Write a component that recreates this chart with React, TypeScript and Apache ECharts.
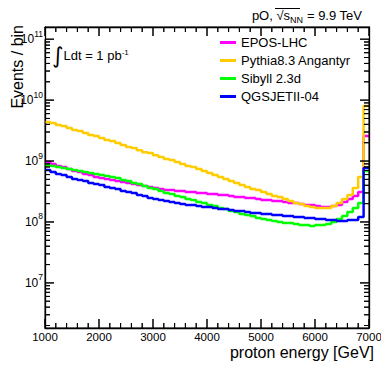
import React, { useEffect, useRef } from 'react';
import * as echarts from 'echarts';

// Bin lower edges (GeV), 100 GeV wide bins
const energyBins = [
  1000, 1100, 1200, 1300, 1400, 1500, 1600, 1700, 1800, 1900,
  2000, 2100, 2200, 2300, 2400, 2500, 2600, 2700, 2800, 2900,
  3000, 3100, 3200, 3300, 3400, 3500, 3600, 3700, 3800, 3900,
  4000, 4100, 4200, 4300, 4400, 4500, 4600, 4700, 4800, 4900,
  5000, 5100, 5200, 5300, 5400, 5500, 5600, 5700, 5800, 5900,
  6000, 6100, 6200, 6300, 6400, 6500, 6600, 6700, 6800, 6900,
];
const binUpperEdge = 7000;

const eposLHC = [
  9.63e8, 8.93e8, 8.28e8, 7.97e8, 7.39e8, 6.86e8, 6.60e8, 6.12e8, 5.90e8, 5.47e8,
  5.26e8, 5.07e8, 4.88e8, 4.70e8, 4.53e8, 4.36e8, 4.20e8, 4.04e8, 3.89e8, 3.75e8,
  3.61e8, 3.48e8, 3.35e8, 3.35e8, 3.22e8, 3.22e8, 3.10e8, 3.10e8, 2.99e8, 2.99e8,
  2.88e8, 2.88e8, 2.77e8, 2.77e8, 2.67e8, 2.57e8, 2.57e8, 2.47e8, 2.47e8, 2.38e8,
  2.30e8, 2.30e8, 2.21e8, 2.21e8, 2.13e8, 2.05e8, 2.05e8, 1.97e8, 1.90e8, 1.90e8,
  1.83e8, 1.76e8, 1.76e8, 1.83e8, 1.90e8, 2.13e8, 2.38e8, 2.67e8, 3.10e8, 2.57e9,
];
const pythiaAngantyr = [
  4.36e9, 4.20e9, 3.89e9, 3.75e9, 3.48e9, 3.22e9, 3.10e9, 2.88e9, 2.67e9, 2.57e9,
  2.38e9, 2.21e9, 2.13e9, 1.97e9, 1.83e9, 1.70e9, 1.63e9, 1.51e9, 1.40e9, 1.35e9,
  1.25e9, 1.16e9, 1.08e9, 1.04e9, 9.63e8, 8.93e8, 8.28e8, 7.97e8, 7.39e8, 6.86e8,
  6.36e8, 5.90e8, 5.47e8, 5.07e8, 4.70e8, 4.36e8, 4.04e8, 3.75e8, 3.48e8, 3.35e8,
  3.10e8, 2.88e8, 2.67e8, 2.57e8, 2.38e8, 2.21e8, 2.05e8, 1.97e8, 1.83e8, 1.76e8,
  1.70e8, 1.70e8, 1.70e8, 1.83e8, 2.05e8, 2.38e8, 2.77e8, 3.61e8, 5.47e8, 7.97e9,
];
const sibyll23d = [
  8.60e8, 8.28e8, 7.97e8, 7.68e8, 7.39e8, 7.12e8, 6.86e8, 6.60e8, 6.36e8, 6.12e8,
  5.90e8, 5.68e8, 5.47e8, 5.26e8, 4.88e8, 4.70e8, 4.36e8, 4.20e8, 3.89e8, 3.61e8,
  3.48e8, 3.22e8, 2.99e8, 2.88e8, 2.67e8, 2.57e8, 2.38e8, 2.30e8, 2.13e8, 2.05e8,
  1.90e8, 1.83e8, 1.70e8, 1.63e8, 1.51e8, 1.46e8, 1.35e8, 1.30e8, 1.25e8, 1.16e8,
  1.12e8, 1.08e8, 1.04e8, 1.00e8, 9.63e7, 9.63e7, 9.27e7, 8.93e7, 8.93e7, 8.60e7,
  8.93e7, 8.93e7, 9.27e7, 1.00e8, 1.12e8, 1.25e8, 1.46e8, 1.70e8, 2.05e8, 6.86e8,
];
const qgsjetII04 = [
  7.12e8, 6.60e8, 6.12e8, 5.90e8, 5.47e8, 5.07e8, 4.88e8, 4.70e8, 4.36e8, 4.20e8,
  4.04e8, 3.75e8, 3.61e8, 3.48e8, 3.22e8, 3.10e8, 2.99e8, 2.77e8, 2.67e8, 2.47e8,
  2.38e8, 2.30e8, 2.21e8, 2.13e8, 2.05e8, 1.97e8, 1.90e8, 1.90e8, 1.83e8, 1.76e8,
  1.76e8, 1.70e8, 1.63e8, 1.63e8, 1.57e8, 1.51e8, 1.51e8, 1.46e8, 1.40e8, 1.40e8,
  1.35e8, 1.35e8, 1.30e8, 1.30e8, 1.25e8, 1.25e8, 1.21e8, 1.21e8, 1.16e8, 1.16e8,
  1.12e8, 1.12e8, 1.08e8, 1.08e8, 1.04e8, 1.04e8, 1.08e8, 1.08e8, 1.21e8, 7.68e8,
];

const seriesNames = ['EPOS-LHC', 'Pythia8.3 Angantyr', 'Sibyll 2.3d', 'QGSJETII-04'];
const seriesColors = ['#ff00ff', '#ffcc00', '#00ff00', '#0000ff'];
const seriesValues = [eposLHC, pythiaAngantyr, sibyll23d, qgsjetII04];

const xMin = 1000;
const xMax = 7000;
const xInterval = 1000;
const xMinorStep = 200;
const yLogMin = 6.26;
const yLogMax = 11.2;
const yDecades = [7, 8, 9, 10, 11];

// layout
const CHART_W = 381;
const CHART_H = 366;
const GRID = { left: 45, right: 12, top: 27, bottom: 38 };
const PLOT_W = CHART_W - GRID.left - GRID.right;
const PLOT_H = CHART_H - GRID.top - GRID.bottom;
const MAJOR_LEN = 9;
const MINOR_LEN = 5;

const FONT = '"Liberation Sans", Arial, Helvetica, sans-serif';

function xTickValues(): number[][] {
  const out: number[][] = [];
  for (let v = xMin; v <= xMax + 1e-6; v += xMinorStep) {
    const isMajor = Math.abs((v - xMin) % xInterval) < 1e-6;
    out.push([v, isMajor ? MAJOR_LEN : MINOR_LEN]);
  }
  return out;
}

function yTickValues(): number[][] {
  const out: number[][] = [];
  for (let n = 6; n <= 11; n++) {
    for (let k = 1; k <= 9; k++) {
      const v = Math.log10(k) + n;
      if (v > yLogMin && v < yLogMax) out.push([v, k === 1 ? MAJOR_LEN : MINOR_LEN]);
    }
  }
  return out;
}

// Tick comb paths: each tick is a spike off the frame line, retracing along it
function tickComb(side: 'bottom' | 'top' | 'left' | 'right'): number[][] {
  const unitsPerPxX = (xMax - xMin) / PLOT_W;
  const unitsPerPxY = (yLogMax - yLogMin) / PLOT_H;
  const pts: number[][] = [];
  if (side === 'bottom' || side === 'top') {
    const base = side === 'bottom' ? yLogMin : yLogMax;
    const dir = side === 'bottom' ? 1 : -1;
    xTickValues().forEach(([v, len]) => {
      pts.push([v, base], [v, base + dir * len * unitsPerPxY], [v, base]);
    });
  } else {
    const base = side === 'left' ? xMin : xMax;
    const dir = side === 'left' ? 1 : -1;
    yTickValues().forEach(([v, len]) => {
      pts.push([base, v], [base + dir * len * unitsPerPxX, v], [base, v]);
    });
  }
  return pts;
}

function stepData(vals: number[]) {
  const d: number[][] = energyBins.map((e, i) => [e, Math.log10(vals[i])]);
  d.push([binUpperEdge, Math.log10(vals[vals.length - 1])]);
  return d;
}

const frameLine = () => ({ show: true, onZero: false, lineStyle: { color: '#000', width: 1.3 } });

export default function App() {
  const ref = useRef<HTMLDivElement>(null);
  useEffect(() => {
    const chart = echarts.init(ref.current!, null, { renderer: 'svg' });
    const histSeries = seriesNames.map((name, i) => ({
      name,
      type: 'line',
      step: 'end',
      xAxisIndex: 0,
      yAxisIndex: 0,
      showSymbol: false,
      symbol: 'none',
      silent: true,
      color: seriesColors[i],
      lineStyle: { color: seriesColors[i], width: 2.5 },
      data: stepData(seriesValues[i]),
    }));
    const tickSeries = (['bottom', 'top', 'left', 'right'] as const).map((side) => ({
      name: 'ticks-' + side,
      type: 'line',
      xAxisIndex: 0,
      yAxisIndex: 0,
      showSymbol: false,
      symbol: 'none',
      silent: true,
      clip: false,
      z: 5,
      color: '#000',
      lineStyle: { color: '#000', width: 1 },
      data: tickComb(side),
    }));
    const option: any = {
      animation: false,
      backgroundColor: '#ffffff',
      grid: { ...GRID, show: false, outerBoundsMode: 'none', containLabel: false },
      legend: {
        orient: 'vertical',
        left: 220,
        top: 36,
        padding: 0,
        itemWidth: 16,
        itemHeight: 3,
        itemGap: 5,
        icon: 'rect',
        selectedMode: false,
        data: seriesNames,
        textStyle: { fontSize: 13, color: '#000', fontFamily: FONT, lineHeight: 13 },
      },
      xAxis: [
        {
          type: 'value',
          position: 'bottom',
          min: xMin,
          max: xMax,
          interval: xInterval,
          splitLine: { show: false },
          axisLine: frameLine(),
          axisTick: { show: false },
          axisLabel: {
            show: true,
            fontSize: 11.5,
            color: '#000',
            fontFamily: FONT,
            margin: 3,
            showMinLabel: true,
            showMaxLabel: true,
            hideOverlap: false,
            formatter: (v: number) => String(v),
          },
        },
        {
          type: 'value',
          position: 'top',
          min: xMin,
          max: xMax,
          interval: xInterval,
          splitLine: { show: false },
          axisLine: frameLine(),
          axisTick: { show: false },
          axisLabel: { show: false },
        },
      ],
      yAxis: [
        {
          type: 'value',
          position: 'left',
          min: yLogMin,
          max: yLogMax,
          splitLine: { show: false },
          axisLine: frameLine(),
          axisTick: { show: false },
          axisLabel: {
            show: true,
            customValues: yDecades,
            margin: 2,
            formatter: (v: number) => `{b|10}{e|${Math.round(v)}}`,
            rich: {
              b: { fontSize: 12, color: '#000', fontFamily: FONT },
              e: { fontSize: 8.5, color: '#000', fontFamily: FONT, padding: [0, 0, 11, 0] },
            },
          },
        },
        {
          type: 'value',
          position: 'right',
          min: yLogMin,
          max: yLogMax,
          splitLine: { show: false },
          axisLine: frameLine(),
          axisTick: { show: false },
          axisLabel: { show: false },
        },
      ],
      series: [...histSeries, ...tickSeries],
      graphic: [
        {
          type: 'text',
          x: 17.5,
          y: 25,
          rotation: Math.PI / 2,
          style: { text: 'Events / bin', fontSize: 16, fontFamily: FONT, fill: '#000', align: 'right', verticalAlign: 'middle' },
        },
        {
          type: 'text',
          x: 374,
          y: 352,
          style: { text: 'proton energy [GeV]', fontSize: 16, fontFamily: FONT, fill: '#000', align: 'right', verticalAlign: 'middle' },
        },
        {
          type: 'text',
          x: 362,
          y: 15,
          style: {
            text: '{t|pO, }{r|√}{t|s}{s|NN}{t| = 9.9 TeV}',
            align: 'right',
            verticalAlign: 'middle',
            rich: {
              t: { fontSize: 13, fontFamily: FONT, color: '#000' },
              r: { fontSize: 13, fontFamily: FONT, color: '#000' },
              s: { fontSize: 9, fontFamily: FONT, color: '#000', padding: [10, 0, 0, 0] },
            },
          },
        },
        { type: 'line', shape: { x1: 275, y1: 8.5, x2: 300, y2: 8.5 }, style: { stroke: '#000', lineWidth: 1 } },
        {
          type: 'text',
          x: 52,
          y: 55,
          style: {
            text: '{i|∫}{t|Ldt = 1 pb}{e|-1}',
            align: 'left',
            verticalAlign: 'middle',
            rich: {
              i: { fontSize: 22, fontFamily: '"DejaVu Sans"', color: '#000' },
              t: { fontSize: 13, fontFamily: FONT, color: '#000' },
              e: { fontSize: 8, fontFamily: FONT, color: '#000', padding: [0, 0, 5, 0] },
            },
          },
        },
      ],
    };
    chart.setOption(option);
    return () => chart.dispose();
  }, []);
  return <div ref={ref} style={{ position: 'absolute', left: 0, top: 0, width: CHART_W, height: CHART_H }} />;
}
